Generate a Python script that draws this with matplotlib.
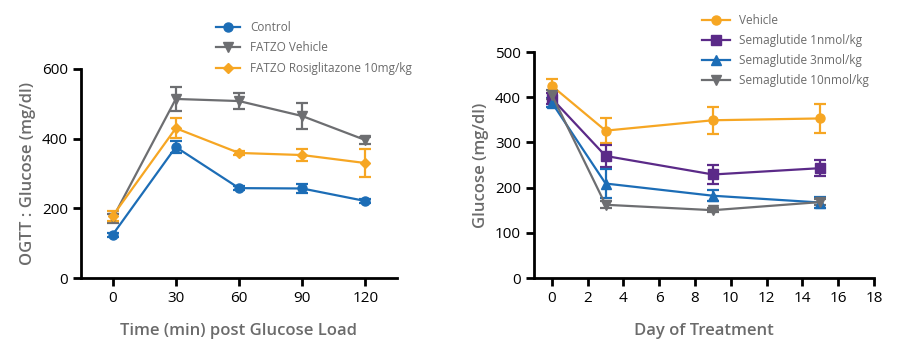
import matplotlib
matplotlib.use("Agg")
import matplotlib.pyplot as plt

# ---- Left panel data (OGTT) ----
time_min = [0, 30, 60, 90, 120]
control = [124, 376, 258, 257, 221]
control_err = [5, 18, 6, 14, 5]
fatzo_vehicle = [171, 514, 508, 465, 396]
fatzo_vehicle_err = [12, 35, 22, 36, 10]
fatzo_rosi = [178, 430, 359, 353, 330]
fatzo_rosi_err = [15, 29, 5, 16, 40]
left_labels = ["Control", "FATZO Vehicle", "FATZO Rosiglitazone 10mg/kg"]
left_xticks = [0, 30, 60, 90, 120]
left_yticks = [0, 200, 400, 600]

# ---- Right panel data (Semaglutide) ----
days = [0, 3, 9, 15]
vehicle = [425, 326, 349, 353]
vehicle_err = [15, 27, 30, 32]
sema1 = [397, 270, 229, 243]
sema1_err = [12, 25, 22, 18]
sema3 = [388, 209, 182, 167]
sema3_err = [10, 32, 12, 12]
sema10 = [405, 162, 150, 168]
sema10_err = [10, 8, 5, 6]
right_labels = ["Vehicle", "Semaglutide 1nmol/kg", "Semaglutide 3nmol/kg", "Semaglutide 10nmol/kg"]
right_xticks = [0, 2, 4, 6, 8, 10, 12, 14, 16, 18]
right_yticks = [0, 100, 200, 300, 400, 500]

BLUE = "#1c6db6"
GREY = "#6d6e71"
ORANGE = "#f6a623"
PURPLE = "#5b2a88"
LABEL_GREY = "#6b6b6b"

plt.rcParams['font.family'] = ['Open Sans', 'DejaVu Sans']

fig = plt.figure(figsize=(9.07, 3.6), dpi=100)
axL = fig.add_axes([81/907, 1-278/360, (397-81)/907, (278-69)/360])
axR = fig.add_axes([534/907, 1-278/360, (874-534)/907, (278-52)/360])

def style(ax):
    for s in ["top", "right"]:
        ax.spines[s].set_visible(False)
    for s in ["left", "bottom"]:
        ax.spines[s].set_linewidth(2.0)
        ax.spines[s].set_color("black")
    ax.tick_params(direction="out", width=2.0, length=6, labelsize=11, colors="black")

def series(ax, x, y, e, color, marker, label, ms=6.5):
    c = ax.errorbar(x, y, yerr=e, color=color, marker=marker, markersize=ms,
                    linewidth=1.6, elinewidth=1.6, capsize=4, capthick=1.6,
                    label=label, clip_on=False, zorder=3)
    return c[0]

hL = [
    series(axL, time_min, control, control_err, BLUE, "o", left_labels[0]),
    series(axL, time_min, fatzo_vehicle, fatzo_vehicle_err, GREY, "v", left_labels[1]),
    series(axL, time_min, fatzo_rosi, fatzo_rosi_err, ORANGE, "D", left_labels[2], ms=5.5),
]
axL.set_xlim(-15, 135)
axL.set_ylim(0, 600)
axL.set_xticks(left_xticks)
axL.set_yticks(left_yticks)
style(axL)
axL.set_ylabel("OGTT : Glucose (mg/dl)", color=LABEL_GREY, fontsize=12, fontweight="semibold")
axL.set_xlabel("Time (min) post Glucose Load", color=LABEL_GREY, fontsize=12, fontweight="semibold", labelpad=12)
axL.legend(handles=hL, labels=left_labels, loc="upper left",
           bbox_to_anchor=(216/907, 1-21/360), bbox_transform=fig.transFigure,
           frameon=False, fontsize=8.5, labelcolor=LABEL_GREY, handlelength=2.0,
           handletextpad=0.9, labelspacing=0.62, borderaxespad=0, borderpad=0)

hR = [
    series(axR, days, vehicle, vehicle_err, ORANGE, "o", right_labels[0]),
    series(axR, days, sema1, sema1_err, PURPLE, "s", right_labels[1]),
    series(axR, days, sema3, sema3_err, BLUE, "^", right_labels[2]),
    series(axR, days, sema10, sema10_err, GREY, "v", right_labels[3]),
]
axR.set_xlim(-1, 18)
axR.set_ylim(0, 500)
axR.set_xticks(right_xticks)
axR.set_yticks(right_yticks)
style(axR)
axR.set_ylabel("Glucose (mg/dl)", color=LABEL_GREY, fontsize=12, fontweight="semibold")
axR.set_xlabel("Day of Treatment", color=LABEL_GREY, fontsize=12, fontweight="semibold", labelpad=12)
axR.legend(handles=hR, labels=right_labels, loc="upper left",
           bbox_to_anchor=(702/907, 1-14/360), bbox_transform=fig.transFigure,
           frameon=False, fontsize=8.5, labelcolor=LABEL_GREY, handlelength=2.4,
           handletextpad=0.7, labelspacing=0.6, borderaxespad=0, borderpad=0)

fig.savefig("out.png", dpi=100, facecolor="white")
